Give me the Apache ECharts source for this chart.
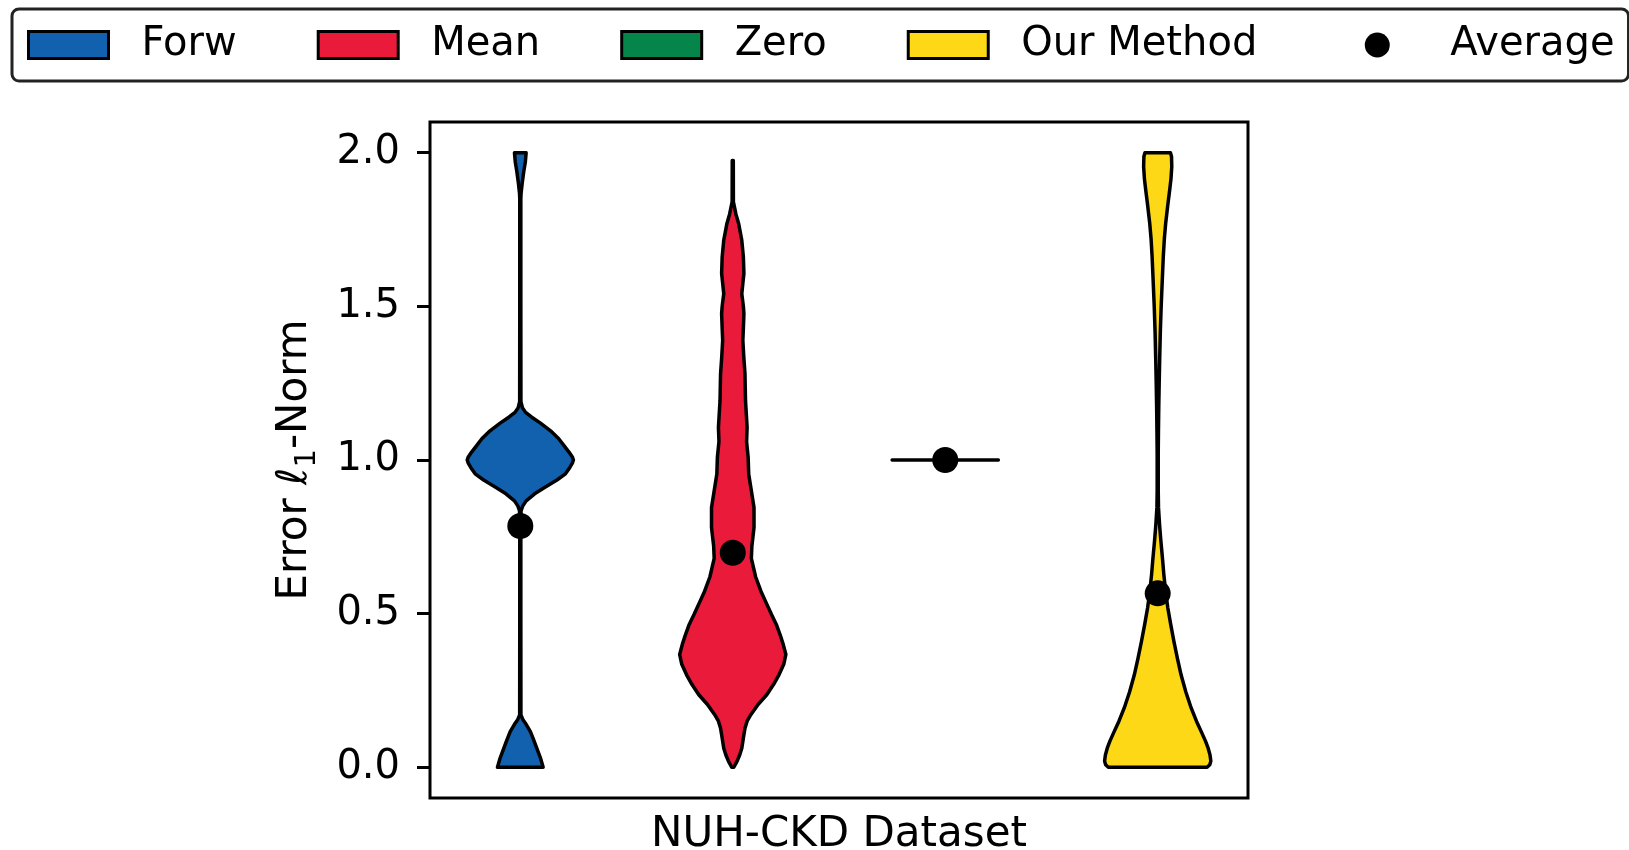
<!DOCTYPE html>
<html>
<head>
<meta charset="utf-8">
<script src="https://cdn.jsdelivr.net/npm/echarts@6/dist/echarts.min.js"></script>
<style>
html,body{margin:0;padding:0;background:#fff;}
#chart{width:1629px;height:850px;}
</style>
</head>
<body>
<div id="chart"></div>
<script>
// ---- data ----
const categories = ['Forw', 'Mean', 'Zero', 'Our Method'];
const positions = [1, 2, 3, 4];
const averages = [0.785, 0.698, 1.0, 0.566];
const yTicks = [0, 0.5, 1.0, 1.5, 2.0];
const xAxisTitle = 'NUH-CKD Dataset';

// violin profiles: [error value, relative half-width (1 = widest)]
const forwProfile = [
  [2.0, 0.11], [1.97, 0.095], [1.94, 0.066], [1.90, 0.035], [1.868, 0.015], [1.85, 0.01],
  [1.5, 0.01], [1.19, 0.012], [1.17, 0.04], [1.155, 0.10], [1.14, 0.21], [1.12, 0.38],
  [1.095, 0.57], [1.07, 0.72], [1.045, 0.83], [1.025, 0.92], [1.01, 0.98], [1.0, 1.0],
  [0.99, 0.98], [0.975, 0.93], [0.955, 0.85], [0.935, 0.69], [0.91, 0.45], [0.89, 0.27],
  [0.867, 0.11], [0.85, 0.045], [0.835, 0.015], [0.80, 0.01], [0.5, 0.01], [0.17, 0.012],
  [0.155, 0.05], [0.14, 0.11], [0.116, 0.19], [0.09, 0.25], [0.062, 0.31], [0.03, 0.38],
  [0.0, 0.43]
];
const meanProfile = [
  [1.975, 0.01], [1.84, 0.012], [1.80, 0.06], [1.77, 0.11], [1.715, 0.17], [1.66, 0.20],
  [1.607, 0.21], [1.575, 0.19], [1.541, 0.17], [1.50, 0.20], [1.476, 0.21], [1.43, 0.20],
  [1.389, 0.19], [1.33, 0.21], [1.28, 0.23], [1.193, 0.24], [1.106, 0.27], [1.06, 0.26],
  [1.008, 0.29], [0.954, 0.30], [0.90, 0.35], [0.845, 0.40], [0.78, 0.40], [0.72, 0.36],
  [0.68, 0.35], [0.62, 0.43], [0.573, 0.53], [0.535, 0.63], [0.497, 0.73], [0.465, 0.82],
  [0.432, 0.89], [0.40, 0.95], [0.367, 1.0], [0.335, 0.96], [0.301, 0.87], [0.27, 0.77],
  [0.236, 0.64], [0.205, 0.48], [0.171, 0.34], [0.15, 0.27], [0.127, 0.23], [0.095, 0.20],
  [0.062, 0.17], [0.04, 0.13], [0.019, 0.08], [0.0, 0.02]
];
const zeroProfile = [
  [1.0, 1.0]
];
const ourProfile = [
  [2.0, 0.24], [1.988, 0.26], [1.955, 0.265], [1.915, 0.25], [1.878, 0.225], [1.83, 0.19],
  [1.77, 0.15], [1.72, 0.125], [1.661, 0.105], [1.58, 0.085], [1.498, 0.065], [1.42, 0.05],
  [1.334, 0.038], [1.25, 0.028], [1.171, 0.02], [1.09, 0.014], [1.02, 0.01], [0.90, 0.01],
  [0.845, 0.015], [0.79, 0.035], [0.736, 0.06], [0.68, 0.09], [0.628, 0.115], [0.57, 0.15],
  [0.519, 0.19], [0.465, 0.245], [0.41, 0.305], [0.355, 0.37], [0.301, 0.44], [0.245, 0.53],
  [0.193, 0.63], [0.15, 0.73], [0.116, 0.82], [0.085, 0.90], [0.062, 0.95], [0.04, 0.985],
  [0.02, 1.0], [0.008, 0.98], [0.0, 0.93]
];
const profiles = [forwProfile, meanProfile, zeroProfile, ourProfile];
const colors = ['#1261AE', '#E91A3A', '#06854A', '#FDD817'];

// ---- chart ----
const HALF = 0.25;   // half of violin width in x units
const FONT = 'DejaVu Sans';

function violinRender(profile, pos, color) {
  return function (params, api) {
    const leftSide = profile.map(p => api.coord([pos - p[1] * HALF, p[0]]));
    const rightSide = profile.slice().reverse().map(p => api.coord([pos + p[1] * HALF, p[0]]));
    return {
      type: 'polygon',
      shape: { points: leftSide.concat(rightSide) },
      style: { fill: color, stroke: '#000', lineWidth: 3.5, lineJoin: 'round' }
    };
  };
}

const series = categories.map((name, i) => ({
  name: name,
  type: 'custom',
  coordinateSystem: 'cartesian2d',
  renderItem: violinRender(profiles[i], positions[i], colors[i]),
  data: [[positions[i], averages[i]]],
  itemStyle: { color: colors[i], borderColor: '#000', borderWidth: 3 },
  silent: true,
  z: 2
}));
series.push({
  name: 'Average',
  type: 'scatter',
  data: positions.map((p, i) => [p, averages[i]]),
  symbol: 'circle',
  symbolSize: 26,
  itemStyle: { color: '#000', opacity: 1 },
  z: 10
});

// legend marker for Average: a circle centred in an 80x27 handle box
const avgIcon = 'path://M0,0M80,27M52.5,13.5A12.5,12.5,0,1,1,27.5,13.5A12.5,12.5,0,1,1,52.5,13.5Z';

const chart = echarts.init(document.getElementById('chart'), null, { renderer: 'canvas' });
chart.setOption({
  animation: false,
  backgroundColor: '#fff',
  textStyle: { fontFamily: FONT },
  legend: {
    left: 12,
    top: 9,
    padding: [16, 14, 16, 15],
    borderColor: '#222',
    borderWidth: 3,
    borderRadius: 7,
    backgroundColor: '#fff',
    itemWidth: 80,
    itemHeight: 27,
    itemGap: 80,
    textStyle: { fontFamily: FONT, fontSize: 40, color: '#000', padding: [0, 0, 0, 28] },
    data: categories.map((n, i) => ({
      name: n, icon: 'rect',
      itemStyle: { color: colors[i], borderColor: '#000', borderWidth: 3 }
    })).concat([{ name: 'Average', icon: avgIcon, itemStyle: { color: '#000', borderWidth: 0, opacity: 1 } }])
  },
  grid: {
    left: 430, right: 381, top: 122, bottom: 52,
    containLabel: false,
    outerBoundsMode: 'none',
    show: true, borderColor: '#000', borderWidth: 3, backgroundColor: 'transparent'
  },
  xAxis: {
    type: 'value',
    min: 0.575, max: 4.425,
    name: xAxisTitle,
    nameLocation: 'middle',
    nameGap: 16,
    nameTextStyle: { fontFamily: FONT, fontSize: 42, color: '#000', verticalAlign: 'top' },
    axisLine: { show: false },
    axisTick: { show: false },
    axisLabel: { show: false },
    splitLine: { show: false }
  },
  yAxis: {
    type: 'value',
    min: -0.1, max: 2.1,
    name: 'Error {it|ℓ}{sub|1}-Norm',
    nameLocation: 'middle',
    nameRotate: 90,
    nameGap: 108,
    nameTextStyle: {
      fontFamily: FONT, fontSize: 42, color: '#000',
      rich: {
        it: { fontFamily: FONT, fontSize: 42, fontStyle: 'italic', color: '#000' },
        sub: { fontFamily: FONT, fontSize: 29, color: '#000', verticalAlign: 'bottom', padding: [25, 0, 0, 0] }
      }
    },
    axisLine: { show: false },
    axisTick: {
      show: true, inside: false, length: 13, customValues: yTicks,
      lineStyle: { color: '#000', width: 3 }
    },
    axisLabel: {
      show: true, customValues: yTicks, margin: 30,
      fontFamily: FONT, fontSize: 40, color: '#000',
      formatter: v => v.toFixed(1)
    },
    splitLine: { show: false }
  },
  series: series
});
</script>
</body>
</html>
